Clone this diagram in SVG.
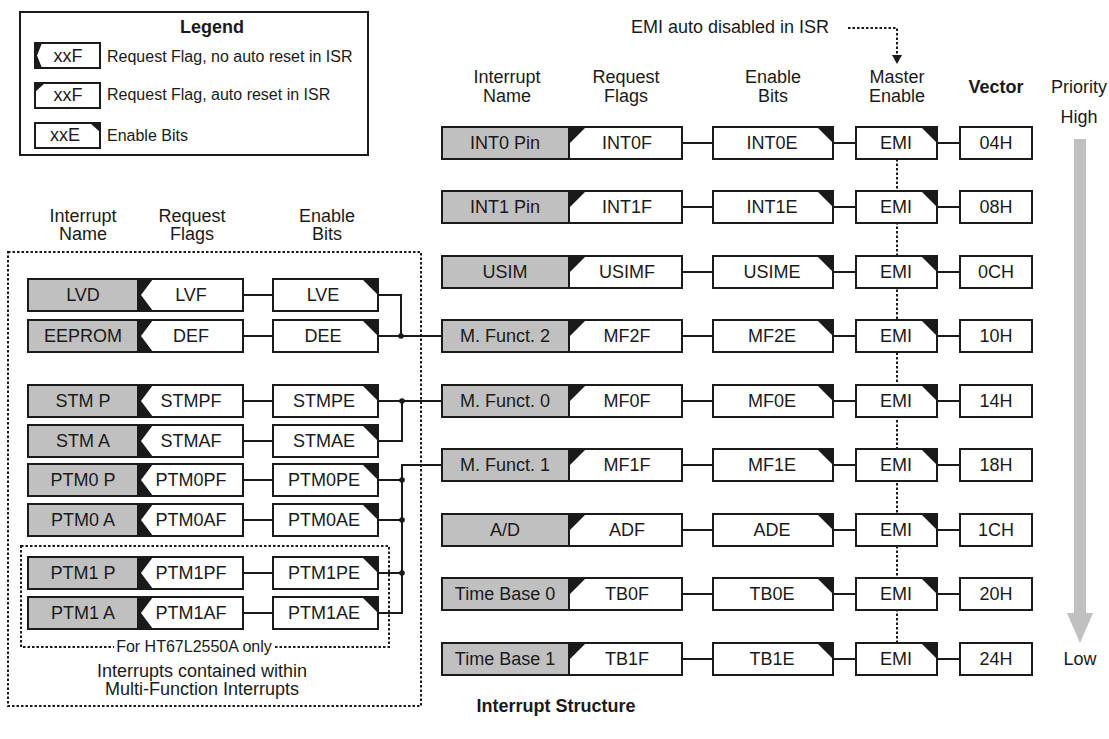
<svg xmlns="http://www.w3.org/2000/svg" xmlns:xlink="http://www.w3.org/1999/xlink" width="1109" height="739" viewBox="0 0 1109 739">
<style>
text{font-family:"Liberation Sans",Arial,sans-serif;fill:#1a1a1a;text-anchor:middle}
.t{font-size:18px}
.b{font-weight:bold}
.s{font-size:16px}
.l{text-anchor:start}
.nm{fill:#c0c0c0;stroke:#1a1a1a;stroke-width:2}
.bx{fill:#fff;stroke:#1a1a1a;stroke-width:2}
.ln{fill:none;stroke:#1a1a1a;stroke-width:2}
.dt{fill:none;stroke:#1a1a1a;stroke-width:2;stroke-dasharray:2.5 2}
.k{fill:#1a1a1a}
</style>
<defs>
<path id="nAR" class="k" d="M0,0 H17 L0,17 Z"/>
<path id="nNR" class="k" d="M0,0 H15 L3,16 L15,32 H0 Z"/>
<path id="nEN" class="k" d="M-16,0 H0 V16 Z"/>
</defs>
<rect width="1109" height="739" fill="#fff"/>

<g id="legend">
<rect x="20" y="12" width="348" height="143" fill="#fff" stroke="#1a1a1a" stroke-width="2"/>
<text class="t b" x="212" y="33">Legend</text>
<rect class="bx" x="35" y="43" width="65" height="25"/>
<path class="k" d="M35,43 H42 L37,55.5 L42,68 H35 Z"/>
<text class="t" x="68" y="62">xxF</text>
<text class="s l" x="107" y="62">Request Flag, no auto reset in ISR</text>
<rect class="bx" x="35" y="83" width="65" height="25"/>
<path class="k" d="M35,83 H45 L35,92 Z"/>
<text class="t" x="68" y="101">xxF</text>
<text class="s l" x="107" y="100">Request Flag, auto reset in ISR</text>
<rect class="bx" x="35" y="123" width="65" height="25"/>
<path class="k" d="M90,123 H100 V132 Z"/>
<text class="t" x="65" y="141">xxE</text>
<text class="s l" x="107" y="141">Enable Bits</text>
</g>

<g id="headers">
<text class="t" x="507" y="83">Interrupt</text><text class="t" x="507" y="102">Name</text>
<text class="t" x="626" y="83">Request</text><text class="t" x="626" y="102">Flags</text>
<text class="t" x="773" y="83">Enable</text><text class="t" x="773" y="102">Bits</text>
<text class="t" x="897" y="83">Master</text><text class="t" x="897" y="102">Enable</text>
<text class="t b" x="996" y="93">Vector</text>
<text class="t" x="1079" y="93">Priority</text>
<text class="t" x="1079" y="123">High</text>
<text class="t" x="1080" y="665">Low</text>
<text class="t" x="83" y="222">Interrupt</text><text class="t" x="83" y="240">Name</text>
<text class="t" x="192" y="222">Request</text><text class="t" x="192" y="240">Flags</text>
<text class="t" x="327" y="222">Enable</text><text class="t" x="327" y="240">Bits</text>
<text class="t" x="730" y="33">EMI auto disabled in ISR</text>
<text class="t b" x="556" y="712">Interrupt Structure</text>
</g>

<g id="priority-arrow">
<rect x="1074" y="139" width="12" height="475" fill="#c0c0c0"/>
<polygon points="1067,613 1093,613 1080,643" fill="#c0c0c0"/>
</g>

<g id="mf-box">
<rect class="dt" x="8" y="252" width="413" height="454"/>
<rect class="dt" x="21" y="546" width="368" height="101"/>
<rect x="114" y="640" width="160" height="16" fill="#fff"/>
<text class="s" x="194" y="652">For HT67L2550A only</text>
<text class="t" x="202" y="677">Interrupts contained within</text>
<text class="t" x="202" y="695">Multi-Function Interrupts</text>
</g>

<g id="connectors">
<path class="dt" d="M848,28 H897 V56"/>
<polygon class="k" points="892,55 902,55 897,64"/>
<path class="dt" d="M897,159 V643"/>
<path class="ln" d="M682,143 H713 M833,143 H856 M937,143 H960
M682,207 H713 M833,207 H856 M937,207 H960
M682,272 H713 M833,272 H856 M937,272 H960
M682,336 H713 M833,336 H856 M937,336 H960
M682,401 H713 M833,401 H856 M937,401 H960
M682,465 H713 M833,465 H856 M937,465 H960
M682,530 H713 M833,530 H856 M937,530 H960
M682,594 H713 M833,594 H856 M937,594 H960
M682,659 H713 M833,659 H856 M937,659 H960"/>
<path class="ln" d="M243,295 H273 M243,336 H273 M243,401 H273 M243,441 H273 M243,480 H273 M243,520 H273 M243,573 H273 M243,613 H273"/>
<path class="ln" d="M378,295 H401 V336 M378,336 H442"/>
<path class="ln" d="M378,401 H442 M378,441 H402 V401"/>
<path class="ln" d="M378,480 H402 M378,520 H402 M378,573 H402 M378,613 H402 V465 H442"/>
<circle class="k" cx="401" cy="336" r="2.8"/>
<circle class="k" cx="402" cy="401" r="2.8"/>
<circle class="k" cx="402" cy="480" r="2.8"/>
<circle class="k" cx="402" cy="520" r="2.8"/>
<circle class="k" cx="402" cy="573" r="2.8"/>
</g>

<g id="int0">
<rect class="nm" x="442" y="127" width="127" height="32"/><rect class="bx" x="569" y="127" width="113" height="32"/><use href="#nAR" x="569" y="127"/>
<rect class="bx" x="713" y="127" width="120" height="32"/><use href="#nEN" x="833" y="127"/>
<rect class="bx" x="856" y="127" width="81" height="32"/><use href="#nEN" x="937" y="127"/>
<rect class="bx" x="960" y="127" width="72" height="32"/>
<text class="t" x="505" y="149">INT0 Pin</text><text class="t" x="627" y="149">INT0F</text><text class="t" x="772" y="149">INT0E</text><text class="t" x="896" y="149">EMI</text><text class="t" x="996" y="149">04H</text>
</g>
<g id="int1">
<rect class="nm" x="442" y="191" width="127" height="32"/><rect class="bx" x="569" y="191" width="113" height="32"/><use href="#nAR" x="569" y="191"/>
<rect class="bx" x="713" y="191" width="120" height="32"/><use href="#nEN" x="833" y="191"/>
<rect class="bx" x="856" y="191" width="81" height="32"/><use href="#nEN" x="937" y="191"/>
<rect class="bx" x="960" y="191" width="72" height="32"/>
<text class="t" x="505" y="213">INT1 Pin</text><text class="t" x="627" y="213">INT1F</text><text class="t" x="772" y="213">INT1E</text><text class="t" x="896" y="213">EMI</text><text class="t" x="996" y="213">08H</text>
</g>
<g id="usim">
<rect class="nm" x="442" y="256" width="127" height="32"/><rect class="bx" x="569" y="256" width="113" height="32"/><use href="#nAR" x="569" y="256"/>
<rect class="bx" x="713" y="256" width="120" height="32"/><use href="#nEN" x="833" y="256"/>
<rect class="bx" x="856" y="256" width="81" height="32"/><use href="#nEN" x="937" y="256"/>
<rect class="bx" x="960" y="256" width="72" height="32"/>
<text class="t" x="505" y="278">USIM</text><text class="t" x="627" y="278">USIMF</text><text class="t" x="772" y="278">USIME</text><text class="t" x="896" y="278">EMI</text><text class="t" x="996" y="278">0CH</text>
</g>
<g id="mf2">
<rect class="nm" x="442" y="320" width="127" height="32"/><rect class="bx" x="569" y="320" width="113" height="32"/><use href="#nAR" x="569" y="320"/>
<rect class="bx" x="713" y="320" width="120" height="32"/><use href="#nEN" x="833" y="320"/>
<rect class="bx" x="856" y="320" width="81" height="32"/><use href="#nEN" x="937" y="320"/>
<rect class="bx" x="960" y="320" width="72" height="32"/>
<text class="t" x="505" y="342">M. Funct. 2</text><text class="t" x="627" y="342">MF2F</text><text class="t" x="772" y="342">MF2E</text><text class="t" x="896" y="342">EMI</text><text class="t" x="996" y="342">10H</text>
</g>
<g id="mf0">
<rect class="nm" x="442" y="385" width="127" height="32"/><rect class="bx" x="569" y="385" width="113" height="32"/><use href="#nAR" x="569" y="385"/>
<rect class="bx" x="713" y="385" width="120" height="32"/><use href="#nEN" x="833" y="385"/>
<rect class="bx" x="856" y="385" width="81" height="32"/><use href="#nEN" x="937" y="385"/>
<rect class="bx" x="960" y="385" width="72" height="32"/>
<text class="t" x="505" y="407">M. Funct. 0</text><text class="t" x="627" y="407">MF0F</text><text class="t" x="772" y="407">MF0E</text><text class="t" x="896" y="407">EMI</text><text class="t" x="996" y="407">14H</text>
</g>
<g id="mf1">
<rect class="nm" x="442" y="449" width="127" height="32"/><rect class="bx" x="569" y="449" width="113" height="32"/><use href="#nAR" x="569" y="449"/>
<rect class="bx" x="713" y="449" width="120" height="32"/><use href="#nEN" x="833" y="449"/>
<rect class="bx" x="856" y="449" width="81" height="32"/><use href="#nEN" x="937" y="449"/>
<rect class="bx" x="960" y="449" width="72" height="32"/>
<text class="t" x="505" y="471">M. Funct. 1</text><text class="t" x="627" y="471">MF1F</text><text class="t" x="772" y="471">MF1E</text><text class="t" x="896" y="471">EMI</text><text class="t" x="996" y="471">18H</text>
</g>
<g id="ad">
<rect class="nm" x="442" y="514" width="127" height="32"/><rect class="bx" x="569" y="514" width="113" height="32"/><use href="#nAR" x="569" y="514"/>
<rect class="bx" x="713" y="514" width="120" height="32"/><use href="#nEN" x="833" y="514"/>
<rect class="bx" x="856" y="514" width="81" height="32"/><use href="#nEN" x="937" y="514"/>
<rect class="bx" x="960" y="514" width="72" height="32"/>
<text class="t" x="505" y="536">A/D</text><text class="t" x="627" y="536">ADF</text><text class="t" x="772" y="536">ADE</text><text class="t" x="896" y="536">EMI</text><text class="t" x="996" y="536">1CH</text>
</g>
<g id="tb0">
<rect class="nm" x="442" y="578" width="127" height="32"/><rect class="bx" x="569" y="578" width="113" height="32"/><use href="#nAR" x="569" y="578"/>
<rect class="bx" x="713" y="578" width="120" height="32"/><use href="#nEN" x="833" y="578"/>
<rect class="bx" x="856" y="578" width="81" height="32"/><use href="#nEN" x="937" y="578"/>
<rect class="bx" x="960" y="578" width="72" height="32"/>
<text class="t" x="505" y="600">Time Base 0</text><text class="t" x="627" y="600">TB0F</text><text class="t" x="772" y="600">TB0E</text><text class="t" x="896" y="600">EMI</text><text class="t" x="996" y="600">20H</text>
</g>
<g id="tb1">
<rect class="nm" x="442" y="643" width="127" height="32"/><rect class="bx" x="569" y="643" width="113" height="32"/><use href="#nAR" x="569" y="643"/>
<rect class="bx" x="713" y="643" width="120" height="32"/><use href="#nEN" x="833" y="643"/>
<rect class="bx" x="856" y="643" width="81" height="32"/><use href="#nEN" x="937" y="643"/>
<rect class="bx" x="960" y="643" width="72" height="32"/>
<text class="t" x="505" y="665">Time Base 1</text><text class="t" x="627" y="665">TB1F</text><text class="t" x="772" y="665">TB1E</text><text class="t" x="896" y="665">EMI</text><text class="t" x="996" y="665">24H</text>
</g>

<g id="lvd">
<rect class="nm" x="28" y="279" width="110" height="32"/><rect class="bx" x="138" y="279" width="105" height="32"/><use href="#nNR" x="138" y="279"/>
<rect class="bx" x="273" y="279" width="105" height="32"/><use href="#nEN" x="378" y="279"/>
<text class="t" x="83" y="301">LVD</text><text class="t" x="191" y="301">LVF</text><text class="t" x="323" y="301">LVE</text>
</g>
<g id="eeprom">
<rect class="nm" x="28" y="320" width="110" height="32"/><rect class="bx" x="138" y="320" width="105" height="32"/><use href="#nNR" x="138" y="320"/>
<rect class="bx" x="273" y="320" width="105" height="32"/><use href="#nEN" x="378" y="320"/>
<text class="t" x="83" y="342">EEPROM</text><text class="t" x="191" y="342">DEF</text><text class="t" x="323" y="342">DEE</text>
</g>
<g id="stmp">
<rect class="nm" x="28" y="385" width="110" height="32"/><rect class="bx" x="138" y="385" width="105" height="32"/><use href="#nNR" x="138" y="385"/>
<rect class="bx" x="273" y="385" width="105" height="32"/><use href="#nEN" x="378" y="385"/>
<text class="t" x="83" y="407">STM P</text><text class="t" x="191" y="407">STMPF</text><text class="t" x="324" y="407">STMPE</text>
</g>
<g id="stma">
<rect class="nm" x="28" y="425" width="110" height="32"/><rect class="bx" x="138" y="425" width="105" height="32"/><use href="#nNR" x="138" y="425"/>
<rect class="bx" x="273" y="425" width="105" height="32"/><use href="#nEN" x="378" y="425"/>
<text class="t" x="83" y="447">STM A</text><text class="t" x="191" y="447">STMAF</text><text class="t" x="324" y="447">STMAE</text>
</g>
<g id="ptm0p">
<rect class="nm" x="28" y="464" width="110" height="32"/><rect class="bx" x="138" y="464" width="105" height="32"/><use href="#nNR" x="138" y="464"/>
<rect class="bx" x="273" y="464" width="105" height="32"/><use href="#nEN" x="378" y="464"/>
<text class="t" x="83" y="486">PTM0 P</text><text class="t" x="191" y="486">PTM0PF</text><text class="t" x="324" y="486">PTM0PE</text>
</g>
<g id="ptm0a">
<rect class="nm" x="28" y="504" width="110" height="32"/><rect class="bx" x="138" y="504" width="105" height="32"/><use href="#nNR" x="138" y="504"/>
<rect class="bx" x="273" y="504" width="105" height="32"/><use href="#nEN" x="378" y="504"/>
<text class="t" x="83" y="526">PTM0 A</text><text class="t" x="191" y="526">PTM0AF</text><text class="t" x="324" y="526">PTM0AE</text>
</g>
<g id="ptm1p">
<rect class="nm" x="28" y="557" width="110" height="32"/><rect class="bx" x="138" y="557" width="105" height="32"/><use href="#nNR" x="138" y="557"/>
<rect class="bx" x="273" y="557" width="105" height="32"/><use href="#nEN" x="378" y="557"/>
<text class="t" x="83" y="579">PTM1 P</text><text class="t" x="191" y="579">PTM1PF</text><text class="t" x="324" y="579">PTM1PE</text>
</g>
<g id="ptm1a">
<rect class="nm" x="28" y="597" width="110" height="32"/><rect class="bx" x="138" y="597" width="105" height="32"/><use href="#nNR" x="138" y="597"/>
<rect class="bx" x="273" y="597" width="105" height="32"/><use href="#nEN" x="378" y="597"/>
<text class="t" x="83" y="619">PTM1 A</text><text class="t" x="191" y="619">PTM1AF</text><text class="t" x="324" y="619">PTM1AE</text>
</g>
</svg>
